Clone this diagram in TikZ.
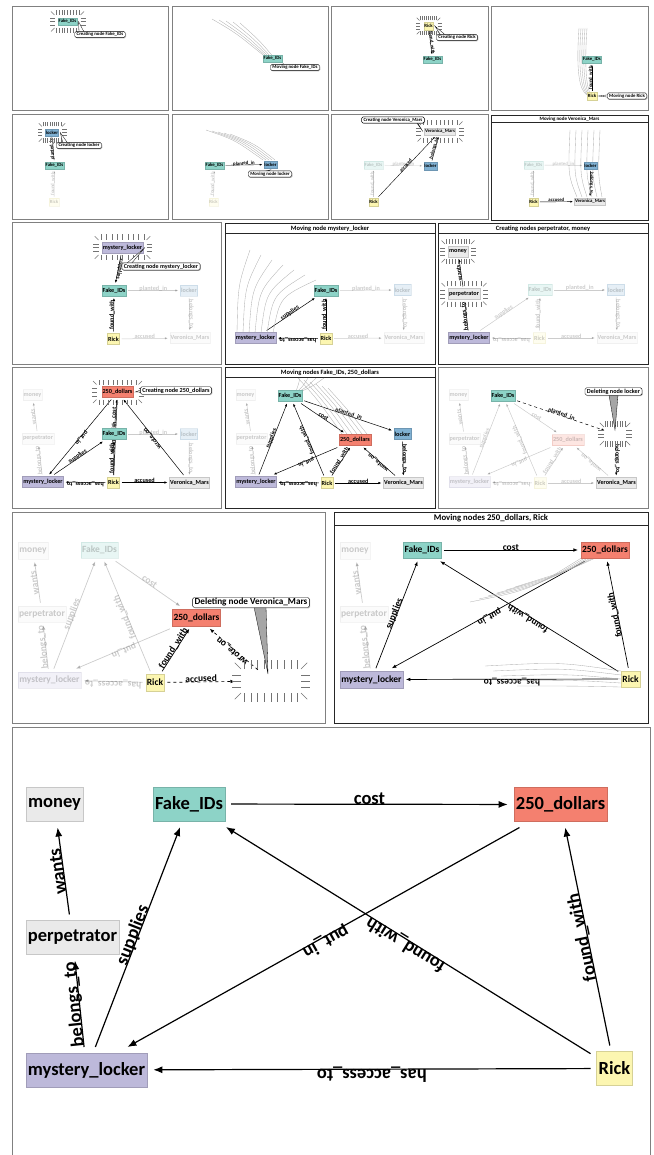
\documentclass[tikz,border=0pt]{standalone}
\usepackage{fontspec}
\setmainfont{Carlito}
\usetikzlibrary{arrows.meta, shadows}

\definecolor{fakecol}{HTML}{8DD3C7}
\definecolor{dollarcol}{HTML}{F4806F}
\definecolor{rickcol}{HTML}{FCF6B1}
\definecolor{lockercol}{HTML}{80B1D3}
\definecolor{mystcol}{HTML}{BDB9DA}
\definecolor{plaincol}{HTML}{EAEAEA}

\pgfdeclarelayer{edges}
\pgfsetlayers{edges,main}

\tikzset{
  frame/.style={draw=black!50, line width=1},
  tframe/.style={draw=black!85, line width=0.7},
  ptitle/.style={font=\fontsize{#1}{#1}\selectfont\bfseries, inner sep=0pt},
  gbox/.style={minimum height=11, inner xsep=0.8, inner ysep=0, outer sep=2},
  gnode/.style={gbox, fill=#1, draw=#1!85!black, line width=0.3},
  fake/.style={gnode=fakecol},
  dollars/.style={gnode=dollarcol},
  rick/.style={gnode=rickcol},
  locker/.style={gnode=lockercol},
  mystery/.style={gnode=mystcol},
  plain/.style={gnode=plaincol},
  hidden/.style={gbox, inner sep=0},
  faded/.style={opacity=0.2},
  gone/.style={dashed},
  ed/.style={draw, -{Latex}},
  lab/.style={sloped, allow upside down, anchor=base, inner sep=0.5},
  streak/.style={draw=black!30, line width=0.35},
  burstline/.style={draw=black!55, line width=0.4},
  note/.style={draw, fill=white, rounded corners=1.5, line width=0.4, inner xsep=2, inner ysep=1,
    font=\fontsize{#1}{#1}\selectfont\bfseries,
    drop shadow={shadow xshift=0.8pt, shadow yshift=-0.8pt, fill=black!50}},
  pointer/.style={fill=white, draw=black, line width=0.3},
  r12/.style={every node/.append style={font=\fontsize{4.8}{5.5}\selectfont\bfseries},
    gbox/.style={minimum height=7.5, inner xsep=0.6, inner ysep=0, outer sep=1.6},
    ed/.style={draw, line width=0.4, -{Latex[length=2.4, width=1.9]}}},
  r34/.style={every node/.append style={font=\fontsize{6.2}{7}\selectfont\bfseries},
    gbox/.style={minimum height=11, inner xsep=0.8, inner ysep=0, outer sep=2},
    ed/.style={draw, line width=0.5, -{Latex[length=3, width=2.4]}}},
  r5/.style={every node/.append style={font=\fontsize{9.5}{11}\selectfont\bfseries},
    gbox/.style={minimum height=16.5, inner xsep=1.2, inner ysep=0, outer sep=3},
    ed/.style={draw, line width=0.7, -{Latex[length=4.5, width=3.5]}}},
  r6/.style={every node/.append style={font=\fontsize{18.5}{21}\selectfont\bfseries},
    gbox/.style={minimum height=34, inner xsep=2.2, inner ysep=0, outer sep=6},
    ed/.style={draw, line width=1.2, -{Latex[length=9, width=7]}}},
}

\newcommand\gedge[4][]{%
  \begin{pgfonlayer}{edges}
    \draw[ed,#1] (#2) -- node[lab,#1]{#4} (#3);
  \end{pgfonlayer}}

\newcommand\burst[4]{%
  \begin{scope}[shift={#1}]
    \foreach \k in {-4,...,4}{
      \draw[burstline] ({\k*#2/4.5},{-#3}) -- ++(0,{-#4});
      \draw[burstline] ({\k*#2/4.5},{#3}) -- ++(0,{#4});
    }
    \foreach \k in {-1,0,1}{
      \draw[burstline] ({-#2},{\k*#3/2}) -- ++({-#4},0);
      \draw[burstline] ({#2},{\k*#3/2}) -- ++({#4},0);
    }
    \foreach \ux/\uy in {-1/-1,1/-1,-1/1,1/1}
      \draw[burstline] ({\ux*#2},{\uy*#3}) -- ++({\ux*#4*0.7},{\uy*#4*0.7});
  \end{scope}}

\begin{document}
\begin{tikzpicture}[x=1pt, y=-1pt]
\useasboundingbox (0,0) rectangle (653,1155);

% row 1
\begin{scope}[r12]
  \draw[frame] (12,7) rectangle (168,111);
  \node[fake] (p11-fake) at (67.5,21.5) {Fake\_IDs};
  \burst{(p11-fake)}{13}{6.5}{5}
  \draw[pointer] (p11-fake.east) -- (79,32) -- (84,32) -- cycle;
  \node[note=4.8] (p11-note) at (100,34.5) {Creating node Fake\_IDs};

  \draw[frame] (172,7) rectangle (328,111);
  \foreach \k in {0,...,4}
    \draw[streak] (212+7*\k,19+\k) .. controls (236+6*\k,33+2*\k) .. (263+3*\k,55+\k);
  \node[fake] (p12-fake) at (272.5,58.5) {Fake\_IDs};
  \draw[pointer] (p12-fake.south east) -- (277,65.5) -- (282,65.5) -- cycle;
  \node[note=4.8] (p12-note) at (295,67.5) {Moving node Fake\_IDs};

  \draw[frame] (331,7) rectangle (488,111);
  \node[rick] (p13-rick) at (428.5,26) {Rick};
  \node[fake] (p13-fake) at (432.5,59.5) {Fake\_IDs};
  \gedge{p13-rick}{p13-fake}{found\_with}
  \burst{(p13-rick)}{9}{5.5}{4}
  \draw[pointer] (p13-rick.east) -- (441,35.5) -- (446,35.5) -- cycle;
  \node[note=4.8] (p13-note) at (457,37.5) {Creating node Rick};

  \draw[frame] (491,7) rectangle (648,111);
  \foreach \k in {0,...,4}
    \draw[streak] (579+2*\k,28) .. controls (576+2*\k,70) and (579+2*\k,90) .. (587+\k,95);
  \node[fake] (p14-fake) at (592,59.5) {Fake\_IDs};
  \node[rick] (p14-rick) at (592,96) {Rick};
  \gedge{p14-rick}{p14-fake}{found\_with}
  \draw[pointer] (p14-rick.east) -- (611,94.5) -- (611,97.5) -- cycle;
  \node[note=4.8] (p14-note) at (627,96) {Moving node Rick};
\end{scope}

% row 2
\begin{scope}[r12]
  \draw[frame] (12,115) rectangle (168,220);
  \node[locker] (p21-locker) at (52,132.5) {locker};
  \node[fake] (p21-fake) at (54.5,165.5) {Fake\_IDs};
  \node[rick, faded] (p21-rick) at (54,202) {Rick};
  \gedge{p21-fake}{p21-locker}{planted\_in}
  \gedge[faded]{p21-rick}{p21-fake}{found\_with}
  \burst{(p21-locker)}{10}{6}{4.5}
  \draw[pointer] (p21-locker.east) -- (63,143.5) -- (68,143.5) -- cycle;
  \node[note=4.8] (p21-note) at (79,145.5) {Creating node locker};

  \draw[frame] (172,115) rectangle (328,220);
  \foreach \k in {0,...,4}
    \draw[streak] (206+6*\k,130+\k) .. controls (235+5*\k,140+\k) .. (263+3*\k,160);
  \node[fake] (p22-fake) at (214.5,165.5) {Fake\_IDs};
  \node[locker] (p22-locker) at (270.5,164.5) {locker};
  \node[rick, faded] (p22-rick) at (213.5,202) {Rick};
  \gedge{p22-fake}{p22-locker}{planted\_in}
  \gedge[faded]{p22-rick}{p22-fake}{found\_with}
  \draw[pointer] (p22-locker.south) -- (262,172) -- (267,172) -- cycle;
  \node[note=4.8] (p22-note) at (270,174) {Moving node locker};

  \draw[frame] (331,115) rectangle (488,220);
  \node[plain] (p23-veronica) at (440,131.5) {Veronica\_Mars};
  \node[locker] (p23-locker) at (430.5,166) {locker};
  \node[fake, faded] (p23-fake) at (373.5,165) {Fake\_IDs};
  \node[rick] (p23-rick) at (373.5,202) {Rick};
  \gedge[faded]{p23-fake}{p23-locker}{planted\_in}
  \gedge[faded]{p23-rick}{p23-fake}{found\_with}
  \gedge{p23-locker}{p23-veronica}{belongs\_to}
  \gedge{p23-rick}{p23-veronica}{accused}
  \burst{(p23-veronica)}{19}{6.5}{5}
  \draw[pointer] (p23-veronica.west) -- (414,119) -- (417,122) -- cycle;
  \node[note=4.8] (p23-note) at (393,120) {Creating node Veronica\_Mars};

  \draw[tframe] (491,115) rectangle (648,220);
  \draw[tframe] (491,122.5) -- (648,122.5);
  \node[ptitle=5] (p24-title) at (569.5,118.8) {Moving node Veronica\_Mars};
  \foreach \k in {0,...,5}
    \draw[streak] (570+6*\k,130) .. controls (568+6*\k,175) .. (577+5*\k,197);
  \node[fake, faded] (p24-fake) at (533.5,165) {Fake\_IDs};
  \node[locker] (p24-locker) at (590.5,165.5) {locker};
  \node[plain] (p24-veronica) at (590,201.5) {Veronica\_Mars};
  \node[rick] (p24-rick) at (533.5,202) {Rick};
  \gedge[faded]{p24-fake}{p24-locker}{planted\_in}
  \gedge[faded]{p24-rick}{p24-fake}{found\_with}
  \gedge{p24-locker}{p24-veronica}{belongs\_to}
  \gedge{p24-rick}{p24-veronica}{accused}
\end{scope}

% row 3
\begin{scope}[r34]
  \draw[frame] (12,223) rectangle (221,364);
  \node[mystery] (p31-mystery) at (122.5,247.5) {mystery\_locker};
  \node[fake] (p31-fake) at (114,290.5) {Fake\_IDs};
  \node[locker, faded] (p31-locker) at (189,290.5) {locker};
  \node[rick] (p31-rick) at (113.5,339) {Rick};
  \node[plain, faded] (p31-veronica) at (190,338) {Veronica\_Mars};
  \gedge{p31-mystery}{p31-fake}{supplies}
  \gedge{p31-rick}{p31-fake}{found\_with}
  \gedge[faded]{p31-fake}{p31-locker}{planted\_in}
  \gedge[faded]{p31-locker}{p31-veronica}{belongs\_to}
  \gedge[faded]{p31-rick}{p31-veronica}{accused}
  \burst{(p31-mystery)}{24}{7.5}{5.5}
  \draw[pointer] (p31-mystery.east) -- (126,264) -- (131,264) -- cycle;
  \node[note=6] (p31-note) at (161,266.5) {Creating node mystery\_locker};

  \draw[tframe] (225,223) rectangle (435,364);
  \draw[tframe] (225,233) -- (435,233);
  \node[ptitle=6.5] (p32-title) at (330,228.3) {Moving node mystery\_locker};
  \foreach \k in {0,...,6}
    \draw[streak] (250+11*\k,250+5*\k) .. controls (238+7*\k,285+2*\k) .. (237+6*\k,333);
  \node[mystery] (p32-mystery) at (255.5,338) {mystery\_locker};
  \node[fake] (p32-fake) at (326,290.5) {Fake\_IDs};
  \node[rick] (p32-rick) at (326,338.5) {Rick};
  \node[locker, faded] (p32-locker) at (402.5,290) {locker};
  \node[plain, faded] (p32-veronica) at (404,338) {Veronica\_Mars};
  \gedge{p32-mystery}{p32-fake}{supplies}
  \gedge{p32-rick}{p32-fake}{found\_with}
  \gedge{p32-rick}{p32-mystery}{has\_access\_to}
  \gedge[faded]{p32-fake}{p32-locker}{planted\_in}
  \gedge[faded]{p32-locker}{p32-veronica}{belongs\_to}
  \gedge[faded]{p32-rick}{p32-veronica}{accused}

  \draw[tframe] (438,223) rectangle (648,364);
  \draw[tframe] (438,233) -- (648,233);
  \node[ptitle=6.5] (p33-title) at (543,228.3) {Creating nodes perpetrator, money};
  \node[plain] (p33-money) at (458,251.5) {money};
  \node[plain] (p33-perp) at (464,294) {perpetrator};
  \node[mystery] (p33-mystery) at (469,338) {mystery\_locker};
  \node[fake, faded] (p33-fake) at (540,290) {Fake\_IDs};
  \node[rick, faded] (p33-rick) at (539.5,338) {Rick};
  \node[locker, faded] (p33-locker) at (616,290) {locker};
  \node[plain, faded] (p33-veronica) at (617,338) {Veronica\_Mars};
  \gedge{p33-perp}{p33-money}{wants}
  \gedge{p33-mystery}{p33-perp}{belongs\_to}
  \gedge[faded]{p33-mystery}{p33-fake}{supplies}
  \gedge[faded]{p33-rick}{p33-fake}{found\_with}
  \gedge[faded]{p33-rick}{p33-mystery}{has\_access\_to}
  \gedge[faded]{p33-fake}{p33-locker}{planted\_in}
  \gedge[faded]{p33-locker}{p33-veronica}{belongs\_to}
  \gedge[faded]{p33-rick}{p33-veronica}{accused}
  \burst{(p33-money)}{13}{7.5}{5}
  \burst{(p33-perp)}{19}{7.5}{5}
\end{scope}

% row 4
\begin{scope}[r34]
  \draw[frame] (12,367) rectangle (221,508);
  \node[dollars] (p41-dollars) at (117.5,392) {250\_dollars};
  \node[fake] (p41-fake) at (114,434) {Fake\_IDs};
  \node[mystery] (p41-mystery) at (43,482) {mystery\_locker};
  \node[rick] (p41-rick) at (113.5,482.5) {Rick};
  \node[plain] (p41-veronica) at (189.5,482.5) {Veronica\_Mars};
  \node[plain, faded] (p41-money) at (32.5,395) {money};
  \node[plain, faded] (p41-perp) at (38,438.5) {perpetrator};
  \node[locker, faded] (p41-locker) at (189,434) {locker};
  \gedge{p41-fake}{p41-dollars}{cost}
  \gedge{p41-rick}{p41-fake}{found\_with}
  \gedge{p41-rick}{p41-dollars}{found\_with}
  \gedge{p41-mystery}{p41-fake}{supplies}
  \gedge{p41-dollars}{p41-mystery}{put\_in}
  \gedge{p41-rick}{p41-mystery}{has\_access\_to}
  \gedge{p41-rick}{p41-veronica}{accused}
  \gedge{p41-veronica}{p41-dollars}{wrote\_on}
  \gedge[faded]{p41-perp}{p41-money}{wants}
  \gedge[faded]{p41-mystery}{p41-perp}{belongs\_to}
  \gedge[faded]{p41-fake}{p41-locker}{planted\_in}
  \gedge[faded]{p41-locker}{p41-veronica}{belongs\_to}
  \burst{(p41-dollars)}{21}{7.5}{5}
  \draw[pointer] (p41-dollars.east) -- (142,389.5) -- (142,392) -- cycle;
  \node[note=6.2] (p41-note) at (176,390.5) {Creating node 250\_dollars};

  \draw[tframe] (225,367) rectangle (435,508);
  \draw[tframe] (225,377) -- (435,377);
  \node[ptitle=6.5] (p42-title) at (330,372.3) {Moving nodes Fake\_IDs, 250\_dollars};
  \foreach \k in {0,...,5}
    \draw[streak] (298+6*\k,378+2*\k) .. controls (318+6*\k,400+2*\k) .. (342+5*\k,434);
  \foreach \k in {0,...,3}
    \draw[streak] (300+8*\k,378) .. controls (298+5*\k,386) .. (296+2*\k,391);
  \node[fake] (p42-fake) at (290,396) {Fake\_IDs};
  \node[dollars] (p42-dollars) at (355,440) {250\_dollars};
  \node[locker] (p42-locker) at (402.5,434) {locker};
  \node[plain] (p42-veronica) at (403.5,483) {Veronica\_Mars};
  \node[rick] (p42-rick) at (327,483) {Rick};
  \node[mystery] (p42-mystery) at (256,482) {mystery\_locker};
  \node[plain, faded] (p42-money) at (245.5,395) {money};
  \node[plain, faded] (p42-perp) at (251.5,438.5) {perpetrator};
  \gedge{p42-fake}{p42-dollars}{cost}
  \gedge{p42-fake}{p42-locker}{planted\_in}
  \gedge{p42-mystery}{p42-fake}{supplies}
  \gedge{p42-rick}{p42-fake}{found\_with}
  \gedge{p42-dollars}{p42-mystery}{put\_in}
  \gedge{p42-rick}{p42-dollars}{found\_with}
  \gedge{p42-veronica}{p42-dollars}{wrote\_on}
  \gedge{p42-locker}{p42-veronica}{belongs\_to}
  \gedge{p42-rick}{p42-veronica}{accused}
  \gedge{p42-rick}{p42-mystery}{has\_access\_to}
  \gedge[faded]{p42-perp}{p42-money}{wants}
  \gedge[faded]{p42-mystery}{p42-perp}{belongs\_to}

  \draw[frame] (438,367) rectangle (648,508);
  \node[fake] (p43-fake) at (503,396) {Fake\_IDs};
  \node[plain, faded] (p43-money) at (458.5,395) {money};
  \node[plain, faded] (p43-perp) at (464.5,439) {perpetrator};
  \node[mystery, faded] (p43-mystery) at (469.5,482) {mystery\_locker};
  \node[rick, faded] (p43-rick) at (540,483) {Rick};
  \node[dollars, faded] (p43-dollars) at (568,440) {250\_dollars};
  \node[plain] (p43-veronica) at (616.5,483) {Veronica\_Mars};
  \node[hidden, minimum width=17] (p43-locker) at (615,434) {};
  \gedge[gone]{p43-fake}{p43-locker}{planted\_in}
  \gedge[gone]{p43-locker}{p43-veronica}{belongs\_to}
  \gedge[faded]{p43-perp}{p43-money}{wants}
  \gedge[faded]{p43-mystery}{p43-perp}{belongs\_to}
  \gedge[faded]{p43-mystery}{p43-fake}{supplies}
  \gedge[faded]{p43-rick}{p43-fake}{found\_with}
  \gedge[faded]{p43-rick}{p43-dollars}{found\_with}
  \gedge[faded]{p43-fake}{p43-dollars}{cost}
  \gedge[faded]{p43-dollars}{p43-mystery}{put\_in}
  \gedge[faded]{p43-veronica}{p43-dollars}{wrote\_on}
  \gedge[faded]{p43-rick}{p43-veronica}{accused}
  \gedge[faded]{p43-rick}{p43-mystery}{has\_access\_to}
  \burst{(p43-locker)}{11}{7}{6}
  \draw[pointer, fill=black!35] (615,430) -- (609,395) -- (618,395) -- cycle;
  \node[note=6.2] (p43-note) at (613.5,391.5) {Deleting node locker};
\end{scope}

% row 5
\begin{scope}[r5]
  \draw[frame] (12,512) rectangle (325,723);
  \node[plain, faded] (p51-money) at (33,550.5) {money};
  \node[fake, faded] (p51-fake) at (99.5,550) {Fake\_IDs};
  \node[plain, faded] (p51-perp) at (42,614) {perpetrator};
  \node[mystery, faded] (p51-mystery) at (49.5,680) {mystery\_locker};
  \node[rick] (p51-rick) at (155,682.5) {Rick};
  \node[dollars] (p51-dollars) at (196.5,617.5) {250\_dollars};
  \node[hidden, minimum width=66] (p51-veronica) at (271,681) {};
  \gedge{p51-rick}{p51-dollars}{found\_with}
  \gedge[gone]{p51-rick}{p51-veronica}{accused}
  \gedge[gone]{p51-veronica}{p51-dollars}{wrote\_on}
  \gedge[faded]{p51-perp}{p51-money}{wants}
  \gedge[faded]{p51-mystery}{p51-perp}{belongs\_to}
  \gedge[faded]{p51-mystery}{p51-fake}{supplies}
  \gedge[faded]{p51-rick}{p51-fake}{found\_with}
  \gedge[faded]{p51-fake}{p51-dollars}{cost}
  \gedge[faded]{p51-dollars}{p51-mystery}{put\_in}
  \gedge[faded]{p51-rick}{p51-mystery}{has\_access\_to}
  \burst{(p51-veronica)}{30}{12}{9}
  \draw[pointer, fill=black!35] (268,674) -- (254,607) -- (266,607) -- cycle;
  \node[note=9.2] (p51-note) at (251,602.5) {Deleting node Veronica\_Mars};

  \draw[tframe] (334,512) rectangle (648,723);
  \draw[tframe] (334,525) -- (648,525);
  \node[ptitle=8.7] (p52-title) at (491,518.5) {Moving nodes 250\_dollars, Rick};
  \foreach \k in {0,...,5}
    \draw[streak] (470+9*\k,602-3*\k) .. controls (530+8*\k,590-4*\k) .. (583+5*\k,557-\k);
  \foreach \k in {0,...,4}
    \draw[streak] (485+8*\k,666+5*\k) .. controls (560+4*\k,662+6*\k) .. (621,671+4*\k);
  \node[plain, faded] (p52-money) at (355,550.5) {money};
  \node[fake] (p52-fake) at (422,550) {Fake\_IDs};
  \node[dollars] (p52-dollars) at (605,550) {250\_dollars};
  \node[plain, faded] (p52-perp) at (364,614) {perpetrator};
  \node[mystery] (p52-mystery) at (371.5,679.5) {mystery\_locker};
  \node[rick] (p52-rick) at (630.5,679) {Rick};
  \gedge{p52-fake}{p52-dollars}{cost}
  \gedge{p52-rick}{p52-fake}{found\_with}
  \gedge{p52-dollars}{p52-mystery}{put\_in}
  \gedge{p52-rick}{p52-dollars}{found\_with}
  \gedge{p52-mystery}{p52-fake}{supplies}
  \gedge{p52-rick}{p52-mystery}{has\_access\_to}
  \gedge[faded]{p52-perp}{p52-money}{wants}
  \gedge[faded]{p52-mystery}{p52-perp}{belongs\_to}
\end{scope}

% row 6
\begin{scope}[r6]
  \draw[frame] (12,1160) -- (12,727) -- (650,727) -- (650,1160);
  \node[plain] (p6-money) at (54.5,804.5) {money};
  \node[fake] (p6-fake) at (189,804) {Fake\_IDs};
  \node[dollars] (p6-dollars) at (560.5,804.5) {250\_dollars};
  \node[plain] (p6-perp) at (72.5,937.5) {perpetrator};
  \node[mystery] (p6-mystery) at (86.5,1070) {mystery\_locker};
  \node[rick] (p6-rick) at (614.5,1068.5) {Rick};
  \gedge{p6-fake}{p6-dollars}{cost}
  \gedge{p6-rick}{p6-fake}{found\_with}
  \gedge{p6-dollars}{p6-mystery}{put\_in}
  \gedge{p6-rick}{p6-dollars}{found\_with}
  \gedge{p6-mystery}{p6-fake}{supplies}
  \gedge{p6-rick}{p6-mystery}{has\_access\_to}
  \gedge{p6-perp}{p6-money}{wants}
  \gedge{p6-mystery}{p6-perp}{belongs\_to}
\end{scope}
\end{tikzpicture}
\end{document}
